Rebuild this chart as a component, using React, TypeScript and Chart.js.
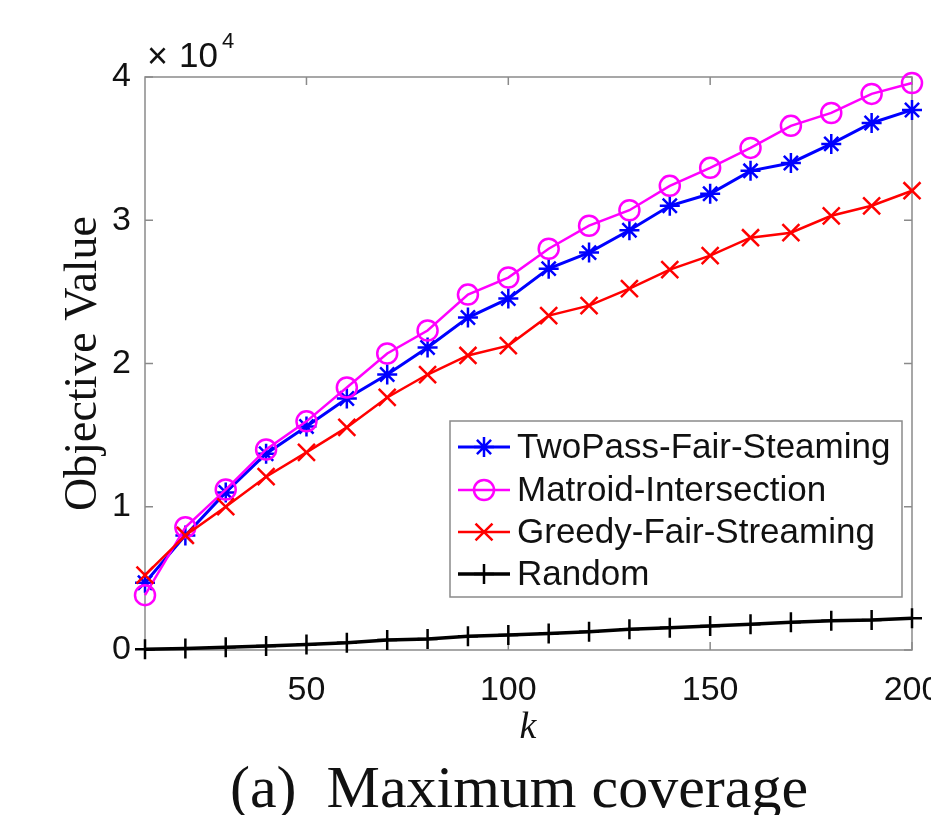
import React, { useEffect, useRef } from "react";
import { Chart, registerables } from "chart.js";

Chart.register(...registerables);

const kValues = [10, 20, 30, 40, 50, 60, 70, 80, 90, 100, 110, 120, 130, 140, 150, 160, 170, 180, 190, 200];
const twoPass = [4700, 8000, 11000, 13700, 15600, 17560, 19230, 21120, 23210, 24530, 26620, 27740, 29300, 31010, 31850, 33450, 34000, 35330, 36790, 37700];
const matroid = [3830, 8570, 11200, 14000, 15960, 18330, 20700, 22300, 24810, 26000, 28010, 29620, 30700, 32400, 33660, 35050, 36590, 37490, 38820, 39580];
const greedy = [5230, 8000, 10000, 12100, 13800, 15540, 17630, 19230, 20560, 21250, 23340, 24040, 25230, 26550, 27530, 28780, 29130, 30310, 31010, 32060];
const randomVals = [50, 100, 190, 280, 390, 510, 700, 770, 960, 1045, 1160, 1280, 1440, 1560, 1670, 1790, 1930, 2040, 2090, 2210];

const seriesNames = ["TwoPass-Fair-Steaming", "Matroid-Intersection", "Greedy-Fair-Streaming", "Random"];
const seriesColors = ["#0000ff", "#ff00ff", "#ff0000", "#000000"];
const seriesMarkers = ["star", "circle", "crossRot", "cross"];
const xTickValues = [50, 100, 150, 200];
const yTickValues = [0, 10000, 20000, 30000, 40000];

const SANS = "'Liberation Sans', Arial, sans-serif";
const SERIF = "'Liberation Serif', 'Times New Roman', serif";

function drawMarker(ctx: CanvasRenderingContext2D, style: string, x: number, y: number, r: number) {
  ctx.beginPath();
  if (style === "circle") {
    ctx.arc(x, y, r, 0, Math.PI * 2);
  } else {
    const d = r * Math.SQRT1_2;
    if (style === "cross" || style === "star") {
      ctx.moveTo(x - r, y); ctx.lineTo(x + r, y);
      ctx.moveTo(x, y - r); ctx.lineTo(x, y + r);
    }
    if (style === "crossRot" || style === "star") {
      ctx.moveTo(x - d, y - d); ctx.lineTo(x + d, y + d);
      ctx.moveTo(x - d, y + d); ctx.lineTo(x + d, y - d);
    }
  }
  ctx.stroke();
}

const markerRadii = [10, 10, 12, 10];
const lineWidths = [3, 2.5, 2.5, 3.5];

const decorPlugin = {
  id: "decor",
  beforeDatasetsDraw(chart: any) {
    const { ctx, chartArea } = chart;
    const { left, right, top, bottom } = chartArea;
    const xs = chart.scales.x;
    const ys = chart.scales.y;
    ctx.save();
    ctx.strokeStyle = "#8a8a8a";
    ctx.lineWidth = 1.5;
    ctx.strokeRect(left, top, right - left, bottom - top);
    const tl = 8;
    ctx.beginPath();
    xTickValues.forEach((v) => {
      const px = xs.getPixelForValue(v);
      ctx.moveTo(px, bottom); ctx.lineTo(px, bottom - tl);
      ctx.moveTo(px, top); ctx.lineTo(px, top + tl);
    });
    yTickValues.forEach((v) => {
      const py = ys.getPixelForValue(v);
      ctx.moveTo(left, py); ctx.lineTo(left + tl, py);
      ctx.moveTo(right, py); ctx.lineTo(right - tl, py);
    });
    ctx.stroke();
    ctx.restore();
  },
  afterDraw(chart: any) {
    const { ctx, chartArea } = chart;
    ctx.save();
    // exponent label
    ctx.fillStyle = "#111";
    ctx.textBaseline = "alphabetic";
    ctx.textAlign = "left";
    ctx.font = `36px ${SANS}`;
    ctx.fillText("\u00d7", 147, 68);
    ctx.font = `35px ${SANS}`;
    ctx.fillText("10", 179, 67);
    ctx.font = `22px ${SANS}`;
    ctx.fillText("4", 222, 48);

    // y-axis title
    ctx.save();
    ctx.translate(96, (chartArea.top + chartArea.bottom) / 2);
    ctx.rotate(-Math.PI / 2);
    ctx.textAlign = "center";
    ctx.textBaseline = "alphabetic";
    ctx.font = `46px ${SERIF}`;
    ctx.fillText("Objective Value", 0, 0);
    ctx.restore();

    // x-axis title
    ctx.textAlign = "center";
    ctx.font = `italic 38px ${SERIF}`;
    ctx.fillText("k", 528, 738);

    // caption
    ctx.font = `60px ${SERIF}`;
    ctx.fillText("(a)  Maximum coverage", 519, 807);

    // legend
    const bx = 450, by = 421, bw = 452, bh = 176;
    ctx.fillStyle = "#ffffff";
    ctx.fillRect(bx, by, bw, bh);
    ctx.strokeStyle = "#8a8a8a";
    ctx.lineWidth = 1.5;
    ctx.strokeRect(bx, by, bw, bh);
    const rows = [447, 490, 532, 574];
    seriesNames.forEach((name, i) => {
      const y = rows[i];
      ctx.strokeStyle = seriesColors[i];
      ctx.lineWidth = lineWidths[i];
      ctx.beginPath();
      ctx.moveTo(458, y); ctx.lineTo(510, y);
      ctx.stroke();
      ctx.lineWidth = 2.5;
      drawMarker(ctx, seriesMarkers[i], 484, y, markerRadii[i]);
      ctx.fillStyle = "#111";
      ctx.textAlign = "left";
      ctx.textBaseline = "middle";
      ctx.font = `35px ${SANS}`;
      ctx.fillText(name, 517, y + 1);
    });
    ctx.restore();
  },
};

export default function App() {
  const canvasRef = useRef<HTMLCanvasElement | null>(null);

  useEffect(() => {
    const canvas = canvasRef.current;
    if (!canvas) return;
    const allSeries = [twoPass, matroid, greedy, randomVals];
    const datasets = allSeries.map((vals, i) => ({
      label: seriesNames[i],
      data: kValues.map((k, j) => ({ x: k, y: vals[j] })),
      borderColor: seriesColors[i],
      backgroundColor: "rgba(0,0,0,0)",
      borderWidth: lineWidths[i],
      pointStyle: seriesMarkers[i],
      pointRadius: markerRadii[i],
      pointBorderWidth: 2.5,
      pointBorderColor: seriesColors[i],
      pointBackgroundColor: "rgba(0,0,0,0)",
      tension: 0,
      clip: false as any,
      order: 3 - i,
    }));
    const chart = new Chart(canvas, {
      type: "line",
      data: { datasets },
      plugins: [decorPlugin],
      options: {
        animation: false,
        responsive: false,
        devicePixelRatio: 1,
        layout: { padding: { top: 77, right: 19, left: 0, bottom: 0 } },
        plugins: { legend: { display: false }, tooltip: { enabled: false }, title: { display: false } },
        scales: {
          x: {
            type: "linear",
            min: 10,
            max: 200,
            grid: { display: false, drawTicks: false },
            border: { display: false },
            afterBuildTicks: (scale: any) => {
              scale.ticks = xTickValues.map((v) => ({ value: v }));
            },
            afterFit: (scale: any) => {
              scale.height = 165;
              scale.paddingLeft = 0;
              scale.paddingRight = 0;
            },
            ticks: {
              color: "#111",
              padding: 20,
              maxRotation: 0,
              autoSkip: false,
              font: { family: SANS, size: 34 },
              callback: (v: any) => String(v),
            },
          },
          y: {
            type: "linear",
            min: 0,
            max: 40000,
            grid: { display: false, drawTicks: false },
            border: { display: false },
            afterBuildTicks: (scale: any) => {
              scale.ticks = yTickValues.map((v) => ({ value: v }));
            },
            afterFit: (scale: any) => {
              scale.width = 145;
              scale.paddingTop = 0;
              scale.paddingBottom = 0;
            },
            ticks: {
              color: "#111",
              padding: 14,
              font: { family: SANS, size: 34 },
              callback: (v: any) => String(Number(v) / 10000),
            },
          },
        },
      },
    });
    return () => chart.destroy();
  }, []);

  return (
    <div style={{ position: "fixed", left: 0, top: 0, width: 931, height: 815, background: "#fff", overflow: "hidden" }}>
      <canvas ref={canvasRef} width={931} height={815} style={{ width: 931, height: 815, display: "block" }} />
    </div>
  );
}
